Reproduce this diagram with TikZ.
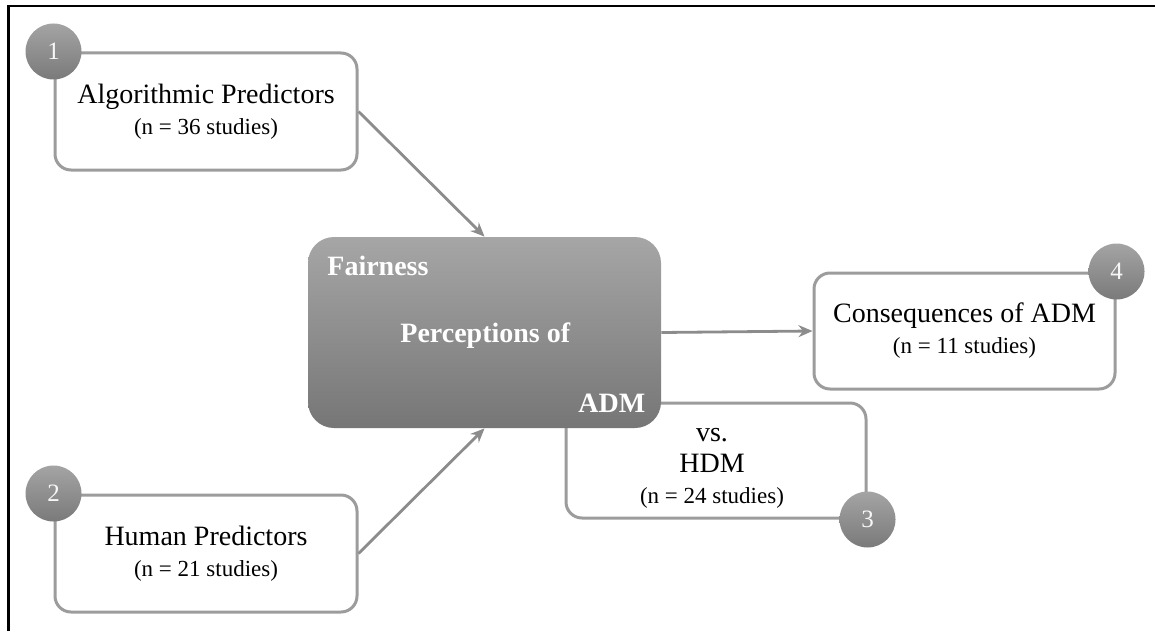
\documentclass[tikz,border=0pt]{standalone}
\usepackage{fontspec}
\setmainfont{Liberation Serif}
\usetikzlibrary{arrows.meta}
\definecolor{boxgray}{HTML}{9C9C9C}
\definecolor{arrgray}{HTML}{8C8C8C}
\definecolor{ctop}{HTML}{A6A6A6}
\definecolor{cbot}{HTML}{767676}
\definecolor{ntop}{HTML}{A4A4A4}
\definecolor{nbot}{HTML}{7A7A7A}
\tikzset{
  sbox/.style={draw=boxgray, line width=1.5pt, rounded corners=8pt, fill=white,
    inner sep=0pt, align=center, font=\fontsize{14}{15.5}\selectfont},
  cbox/.style={rounded corners=13pt, top color=ctop, bottom color=cbot,
    minimum width=176.5pt, minimum height=95.5pt, inner sep=0pt},
  numc/.style={circle, minimum size=28pt, inner sep=0pt, top color=ntop, bottom color=nbot,
    text=white!94!gray, font=\fontsize{12.5}{12.5}\selectfont},
  wtxt/.style={text=white, font=\bfseries\fontsize{14}{14}\selectfont, anchor=base west, inner sep=0pt},
  arr/.style={draw=arrgray, line width=1.4pt, -{Stealth[length=7pt,width=6pt]}},
  sub/.style={}
}
\newcommand{\subtxt}[1]{{\fontsize{11.5}{15.5}\selectfont #1}}
\begin{document}
\begin{tikzpicture}[x=0.5pt,y=-0.5pt]
\useasboundingbox (0,0) rectangle (1155,631);
% frame
\draw[line width=1.3pt] (8.5,631) -- (8.5,6) -- (1155,6);

% box 3 (behind centre box)
\node[sbox, minimum width=150pt, minimum height=57.5pt] (b3) at (716,460.5) {};
\node[align=center, inner sep=0pt, font=\fontsize{14}{15.5}\selectfont] (t3) at (712,468) {vs.\\HDM\\\subtxt{(n = 24 studies)}};

% centre box
\node[cbox] (c) at (484.5,332.5) {};
\node[wtxt] (f1) at (327,275) {Fairness};
\node[wtxt] (f2) at (400,342) {Perceptions of};
\node[wtxt] (f3) at (578,412) {ADM};

% outer boxes
\node[sbox, minimum width=151pt, minimum height=58.5pt] (b1) at (206,111.5)
  {Algorithmic Predictors\\\subtxt{(n = 36 studies)}};
\node[sbox, minimum width=151pt, minimum height=58.5pt] (b2) at (206,553.5)
  {Human Predictors\\\subtxt{(n = 21 studies)}};
\node[sbox, minimum width=150.5pt, minimum height=58pt] (b4) at (964.5,331)
  {Consequences of ADM\\\subtxt{(n = 11 studies)}};

% arrows
\draw[arr] (b1.east) -- (c.north);
\draw[arr] (b2.east) -- (c.south);
\draw[arr] (c.east) -- (b4.west);

% number circles
\node[numc] (n1) at (b1.north west) {1};
\node[numc] (n2) at (b2.north west) {2};
\node[numc] (n3) at (b3.south east) {3};
\node[numc] (n4) at (b4.north east) {4};
\end{tikzpicture}
\end{document}
